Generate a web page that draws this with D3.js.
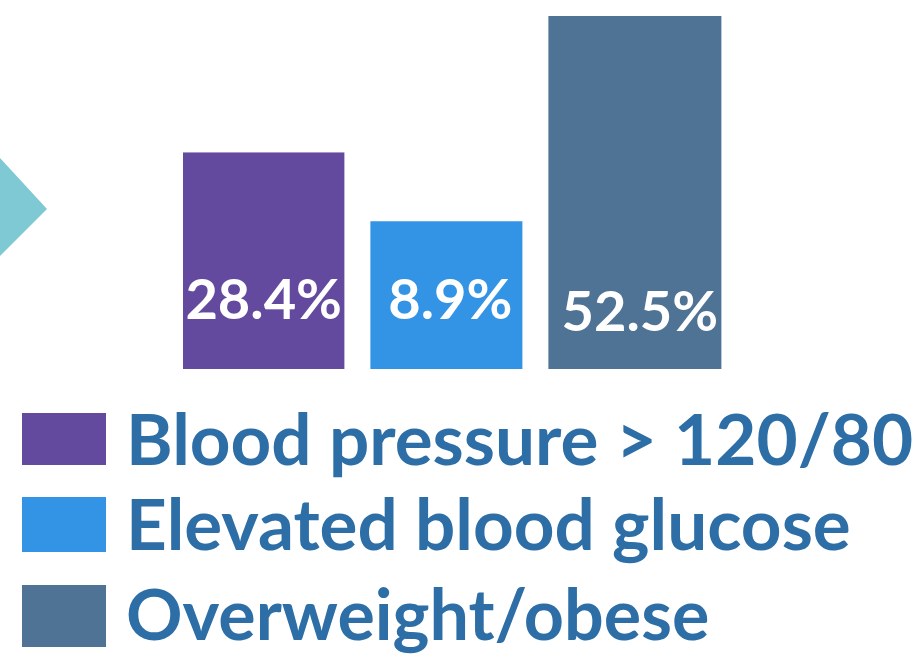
<!DOCTYPE html>
<html>
<head>
<meta charset="utf-8">
<script src="https://cdn.jsdelivr.net/npm/d3@7"></script>
<style>
  body { margin: 0; background: #fff; }
  svg { display: block; }
</style>
</head>
<body>
<div id="chart"></div>
<script>
// data
var categories = ["Blood pressure > 120/80", "Elevated blood glucose", "Overweight/obese"];
var values = [28.4, 8.9, 52.5];
var colors = ["#634a9e", "#3394e5", "#4f7394"];

var W = 919, H = 656;
var baseY = 369;

var svg = d3.select("#chart").append("svg")
  .attr("width", W)
  .attr("height", H);

// teal arrow on the left edge
svg.append("path")
  .attr("d", "M0,158 L47,209 L0,256 Z")
  .attr("fill", "#7fc9d4");

// the original bars are neither linear in height nor equal in width
var y = d3.scalePow()
  .exponent(1.6)
  .domain([0, 52.5])
  .range([baseY - 135, 16]);

var w = d3.scaleLinear()
  .domain([8.9, 52.5])
  .range([152, 173]);

var gap = 26;
var xs = [];
values.reduce(function(acc, v) { xs.push(acc); return acc + w(v) + gap; }, 183);

var bars = svg.selectAll("g.bar")
  .data(values)
  .enter().append("g")
  .attr("class", "bar");

bars.append("rect")
  .attr("x", function(d, i) { return xs[i]; })
  .attr("y", function(d) { return y(d); })
  .attr("width", function(d) { return w(d); })
  .attr("height", function(d) { return baseY - y(d); })
  .attr("fill", function(d, i) { return colors[i]; });

bars.append("text")
  .attr("x", function(d, i) { return xs[i] + w(d) / 2 + [0, 4, 5][i]; })
  .attr("y", function(d, i) { return i == 2 ? 331 : 319; })
  .attr("text-anchor", "middle")
  .attr("font-family", "Lato, sans-serif")
  .attr("font-weight", "bold")
  .attr("font-size", 56)
  .attr("fill", "#fff")
  .text(function(d) { return d + "%"; });

// legend
var rowY = [413, 497, 585];
var legend = svg.selectAll("g.legend")
  .data(categories)
  .enter().append("g")
  .attr("class", "legend")
  .attr("transform", function(d, i) { return "translate(22," + rowY[i] + ")"; });

legend.append("rect")
  .attr("width", 84)
  .attr("height", function(d, i) { return [52, 55, 62][i]; })
  .attr("fill", function(d, i) { return colors[i]; });

legend.append("text")
  .attr("x", 104)
  .attr("y", function(d, i) { return [52, 53, 55][i]; })
  .attr("font-family", "Lato, sans-serif")
  .attr("font-weight", "bold")
  .attr("font-size", function(d, i) { return i == 2 ? 70 : 71; })
  .attr("fill", "#2d6ea6")
  .text(function(d) { return d; });
</script>
</body>
</html>
